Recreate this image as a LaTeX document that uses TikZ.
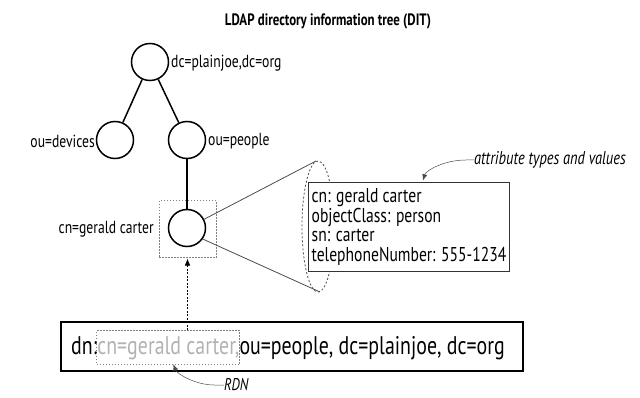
\documentclass[tikz,border=0pt]{standalone}
\usepackage{fontspec}
\setmainfont[FakeStretch=0.78]{PT Sans}
\usetikzlibrary{arrows.meta}

\tikzset{
  vertex/.style={draw, circle, line width=1.5pt, minimum size=37pt, inner sep=0pt},
  treelabel/.style={inner sep=0pt, font=\fontsize{17.5}{17.5}\selectfont},
  dotbox/.style={draw=gray, dash pattern=on 1.5pt off 1.5pt, line width=1pt},
  conedash/.style={draw=black!70, dash pattern=on 2pt off 2pt, line width=0.8pt},
  callout/.style={-{Latex[length=2.2mm, width=1.8mm]}, line width=0.5pt, black!70}
}

\begin{document}
\begin{tikzpicture}[x=1pt, y=-1pt]
\useasboundingbox (0,0) rectangle (640,398);

\node[font=\bfseries\fontsize{16.5}{16.5}\selectfont] (title) at (328,21) {LDAP directory information tree (DIT)};

\node[vertex] (root) at (150,62) {};
\node[vertex] (devices) at (115,140) {};
\node[vertex] (people) at (187,140) {};
\node[vertex] (gerald) at (187,228) {};

\node[treelabel, anchor=west] (rootlabel) at (171,63) {dc=plainjoe,dc=org};
\node[treelabel, anchor=east] (deviceslabel) at (95,141) {ou=devices};
\node[treelabel, anchor=west] (peoplelabel) at (208,141) {ou=people};
\node[treelabel, anchor=east] (geraldlabel) at (154,229) {cn=gerald carter};

\draw[line width=1.5pt] (root) -- (devices);
\draw[line width=1.5pt] (root) -- (people);
\draw[line width=1.5pt] (people) -- (gerald);

\node[dotbox, minimum width=57pt, minimum height=57pt] (selbox) at (187.5,229.5) {};

\coordinate (conetop) at (316,161);
\coordinate (conebot) at (320,292);
\draw[black!70, line width=0.8pt] (gerald.27) -- (conetop);
\draw[black!70, line width=0.8pt] (gerald.-35) -- (conebot);
\draw[conedash] (318,226.5) ellipse [x radius=16, y radius=65.5];

\node[draw=black!80, fill=white, line width=1pt, minimum width=196pt, minimum height=88pt,
  align=left, font=\fontsize{20}{19.5}\selectfont, inner xsep=3pt] (attrs) at (409,227)
  {cn: gerald carter\\objectClass: person\\sn: carter\\telephoneNumber: 555-1234};

\node[font=\itshape\fontsize{18.5}{18.5}\selectfont, anchor=west, inner sep=0pt] (attrlabel) at (474,160) {attribute types and values};
\draw[callout] (attrlabel.west) -- ++(-8,0) .. controls +(-22,0) and +(3,-10) .. ([xshift=14pt, yshift=2pt]attrs.north);

\draw[line width=2pt] (61,322) rectangle (523,371);
\node[font=\fontsize{25.5}{25.5}\selectfont, anchor=base west, inner sep=0pt] (dnkey) at (71,354) {dn:};
\node[font=\fontsize{25.5}{25.5}\selectfont, anchor=base west, inner xsep=0.5pt, text=black!30,
  dotbox, minimum height=34pt, xshift=-1pt] (rdn) at (dnkey.base east) {cn=gerald carter,};
\node[font=\fontsize{25.5}{25.5}\selectfont, anchor=base west, inner sep=0pt, xshift=-1pt] (dnrest) at (rdn.base east) {ou=people, dc=plainjoe, dc=org};

\draw[-{Latex[length=2.5mm, width=2mm]}, dash pattern=on 2pt off 1.5pt, line width=0.8pt] (selbox.south |- rdn.north) -- (selbox.south);

\node[font=\itshape\fontsize{17}{17}\selectfont, anchor=west, inner sep=0pt] (rdnlabel) at (224,385) {RDN};
\draw[callout] (rdnlabel.west) -- ++(-10,0) .. controls +(-18,0) and +(4,10) .. ([xshift=5pt, yshift=1pt]rdn.south);
\end{tikzpicture}
\end{document}
